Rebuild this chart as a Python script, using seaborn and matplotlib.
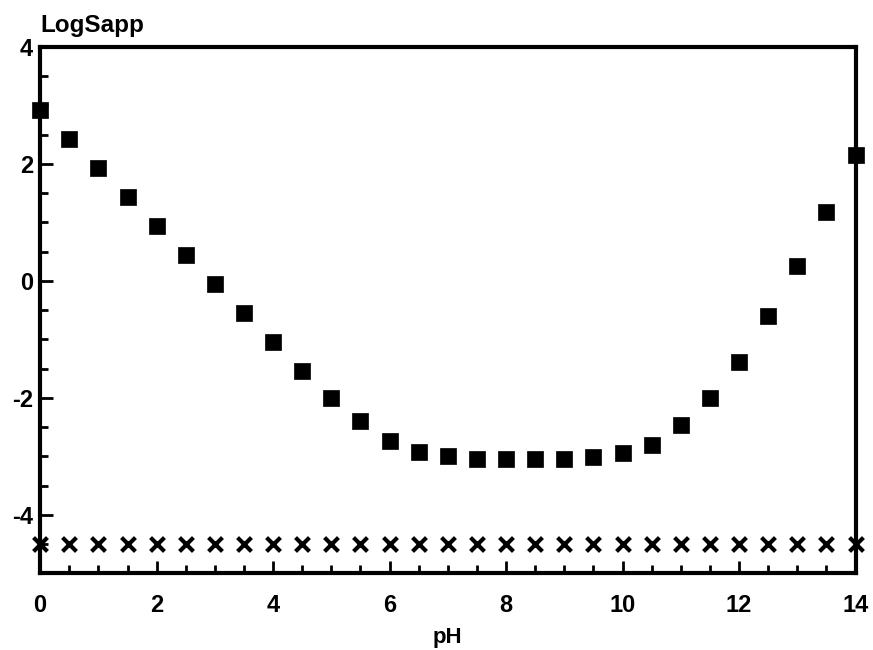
import numpy as np
import pandas as pd
import matplotlib
matplotlib.use("Agg")
import matplotlib.pyplot as plt
import seaborn as sns
from matplotlib.ticker import MultipleLocator

# data
ph = [0, 0.5, 1, 1.5, 2, 2.5, 3, 3.5, 4, 4.5, 5, 5.5, 6, 6.5, 7,
      7.5, 8, 8.5, 9, 9.5, 10, 10.5, 11, 11.5, 12, 12.5, 13, 13.5, 14]
log_sapp = [2.92, 2.42, 1.93, 1.43, 0.93, 0.44, -0.06, -0.55, -1.05, -1.55,
            -2.01, -2.40, -2.73, -2.92, -3.00, -3.04, -3.05, -3.05, -3.04,
            -3.02, -2.95, -2.80, -2.47, -2.01, -1.38, -0.61, 0.25, 1.17, 2.15]
log_s0 = [-4.5] * len(ph)

df = pd.DataFrame({"pH": ph, "LogSapp": log_sapp, "LogS0": log_s0})

sns.set_style("ticks")
plt.rcParams["font.family"] = ["Liberation Sans", "DejaVu Sans"]
plt.rcParams["axes.unicode_minus"] = False
plt.rcParams["text.color"] = "black"
plt.rcParams["xtick.labelcolor"] = "black"
plt.rcParams["ytick.labelcolor"] = "black"

fig = plt.figure(figsize=(8.73, 6.5), dpi=100)
ax = fig.add_axes([0.046, 0.118, 0.934, 0.81])

sns.scatterplot(data=df, x="pH", y="LogSapp", marker="s", s=140, color="black",
                edgecolor="black", linewidth=0.5, ax=ax, clip_on=False, zorder=5)
sns.scatterplot(data=df, x="pH", y="LogS0", marker="x", s=100, color="black",
                linewidth=3, ax=ax, clip_on=False, zorder=5)

ax.set_xlim(0, 14)
ax.set_ylim(-5, 4)
ax.xaxis.set_major_locator(MultipleLocator(2))
ax.xaxis.set_minor_locator(MultipleLocator(0.5))
ax.yaxis.set_major_locator(MultipleLocator(2))
ax.yaxis.set_minor_locator(MultipleLocator(0.5))
ax.tick_params(which="major", direction="in", length=9, width=2, color="black")
ax.tick_params(which="minor", direction="in", length=6, width=2, color="black")
ax.tick_params(axis="x", which="major", pad=15, labelsize=17)
ax.tick_params(axis="y", which="major", pad=5, labelsize=17)
for lab in ax.get_xticklabels() + ax.get_yticklabels():
    lab.set_fontweight("bold")

for sp in ax.spines.values():
    sp.set_linewidth(3)
    sp.set_color("black")

ax.set_xlabel("pH", fontsize=16, fontweight="bold", labelpad=7, color="black")
ax.set_ylabel("")
ax.text(0.0, 1.019, "LogSapp", transform=ax.transAxes, fontsize=17.5,
        fontweight="bold", ha="left", va="bottom", color="black")

fig.savefig("out.png", dpi=100)
